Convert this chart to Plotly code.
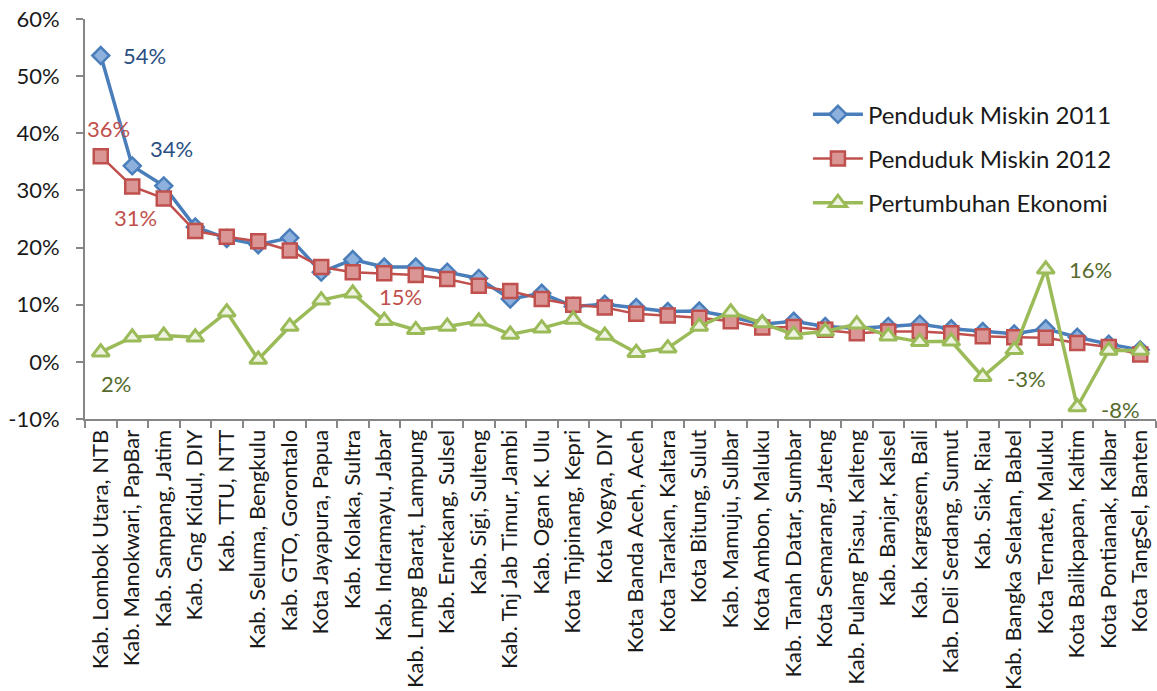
import plotly.graph_objects as go

# Regencies / cities, ordered by poverty rate 2011
regions = [
    "Kab. Lombok Utara, NTB", "Kab. Manokwari, PapBar", "Kab. Sampang, Jatim",
    "Kab. Gng Kidul, DIY", "Kab. TTU, NTT", "Kab. Seluma, Bengkulu",
    "Kab. GTO, Gorontalo", "Kota Jayapura, Papua", "Kab. Kolaka, Sultra",
    "Kab. Indramayu, Jabar", "Kab. Lmpg Barat, Lampung", "Kab. Enrekang, Sulsel",
    "Kab. Sigi, Sulteng", "Kab. Tnj Jab Timur, Jambi", "Kab. Ogan K. Ulu",
    "Kota Tnjpinang, Kepri", "Kota Yogya, DIY", "Kota Banda Aceh, Aceh",
    "Kota Tarakan, Kaltara", "Kota Bitung, Sulut", "Kab. Mamuju, Sulbar",
    "Kota Ambon, Maluku", "Kab. Tanah Datar, Sumbar", "Kota Semarang, Jateng",
    "Kab. Pulang Pisau, Kalteng", "Kab. Banjar, Kalsel", "Kab. Kargasem, Bali",
    "Kab. Deli Serdang, Sumut", "Kab. Siak, Riau", "Kab. Bangka Selatan, Babel",
    "Kota Ternate, Maluku", "Kota Balikpapan, Kaltim", "Kota Pontianak, Kalbar",
    "Kota TangSel, Banten",
]

# Values in percent
miskin_2011 = [53.6, 34.3, 30.8, 23.6, 21.6, 20.5, 21.7, 15.7, 17.9, 16.6,
               16.6, 15.7, 14.6, 11.0, 12.0, 9.7, 10.1, 9.5, 8.8, 8.9,
               7.9, 6.6, 7.1, 6.2, 5.9, 6.2, 6.6, 5.8, 5.3, 4.9,
               5.8, 4.3, 3.1, 2.1]
miskin_2012 = [36.0, 30.7, 28.6, 22.9, 21.9, 21.1, 19.5, 16.6, 15.7, 15.5,
               15.2, 14.5, 13.3, 12.4, 11.0, 10.0, 9.5, 8.4, 8.1, 7.7,
               7.1, 6.0, 6.1, 5.6, 5.0, 5.3, 5.3, 5.0, 4.5, 4.3,
               4.2, 3.3, 2.6, 1.3]
pertumbuhan = [1.7, 4.3, 4.6, 4.3, 8.7, 0.4, 6.2, 10.8, 12.0, 7.2,
               5.6, 6.2, 7.1, 4.8, 5.9, 7.4, 4.6, 1.6, 2.4, 6.2,
               8.7, 6.8, 4.8, 5.3, 6.6, 4.5, 3.5, 3.6, -2.6, 2.1,
               16.2, -7.9, 2.0, 2.0]

y_ticks = [-10, 0, 10, 20, 30, 40, 50, 60]

FONT = "Lato"
TEXT = "#1a1a1a"
AXIS_GRAY = "#868686"

fig = go.Figure()
fig.add_trace(go.Scatter(
    x=regions, y=miskin_2011, name="Penduduk Miskin 2011", legendgroup="a",
    mode="lines+markers",
    line=dict(color="#4A7EBB", width=3.5),
    marker=dict(symbol="diamond", size=13, color="#8DB0DC",
                line=dict(color="#4A7EBB", width=2.5)),
))
fig.add_trace(go.Scatter(
    x=regions, y=miskin_2012, name="Penduduk Miskin 2012", legendgroup="b",
    mode="lines+markers",
    line=dict(color="#C0504D", width=2.5),
    marker=dict(symbol="square", size=14, color="#D99694",
                line=dict(color="#C0504D", width=2.5)),
))
fig.add_trace(go.Scatter(
    x=regions, y=pertumbuhan, name="Pertumbuhan Ekonomi", legendgroup="c",
    mode="lines+markers",
    line=dict(color="#9BBB59", width=3.5),
    marker=dict(symbol="triangle-up", size=15, color="#EEF3E2",
                line=dict(color="#9BBB59", width=3)),
))


def label(series, i, color, xshift, yshift, xanchor="center"):
    v = series[i]
    fig.add_annotation(
        x=regions[i], y=v, text=f"{round(v):.0f}%", showarrow=False,
        xanchor=xanchor, yanchor="middle", xshift=xshift, yshift=yshift,
        font=dict(family=FONT, size=22, color=color),
    )


BLUE_TXT = "#2A4F82"
RED_TXT = "#C0504D"
GREEN_TXT = "#566B2C"
label(miskin_2011, 0, BLUE_TXT, 20, 0, "left")
label(miskin_2011, 1, BLUE_TXT, 16, 17, "left")
label(miskin_2012, 0, RED_TXT, 8, 28)
label(miskin_2012, 1, RED_TXT, 3, -31)
label(miskin_2012, 10, RED_TXT, -15, -21)
label(pertumbuhan, 0, GREEN_TXT, 15, -31)
label(pertumbuhan, 28, GREEN_TXT, 22, -2, "left")
label(pertumbuhan, 30, GREEN_TXT, 21, 0, "left")
label(pertumbuhan, 31, GREEN_TXT, 22, -2, "left")

fig.update_layout(
    width=1157, height=691,
    margin=dict(l=85, r=1, t=19, b=269),
    paper_bgcolor="white", plot_bgcolor="white",
    font=dict(family=FONT, color=TEXT),
    showlegend=True,
    legend=dict(
        x=0.675, y=0.817, xanchor="left", yanchor="top",
        bgcolor="rgba(0,0,0,0)", font=dict(family=FONT, size=24, color=TEXT),
        tracegroupgap=10, itemwidth=50,
    ),
)
fig.update_xaxes(
    type="category", range=[-0.5, len(regions) - 0.5],
    showline=True, linecolor=AXIS_GRAY, linewidth=2,
    ticks="outside", tickson="boundaries", ticklen=7, tickcolor=AXIS_GRAY,
    tickwidth=1.5, tickangle=-90, showgrid=False, zeroline=False,
    tickfont=dict(family=FONT, size=22, color=TEXT),
)
fig.update_yaxes(
    range=[-10, 60], tickvals=y_ticks, ticktext=[f"{t}%" for t in y_ticks],
    showline=True, linecolor=AXIS_GRAY, linewidth=2,
    ticks="outside", ticklen=7, tickcolor=AXIS_GRAY, tickwidth=1.5,
    showgrid=False, zeroline=False, ticklabelstandoff=12,
    tickfont=dict(family=FONT, size=22, color=TEXT),
)

fig.write_html("out.html")
